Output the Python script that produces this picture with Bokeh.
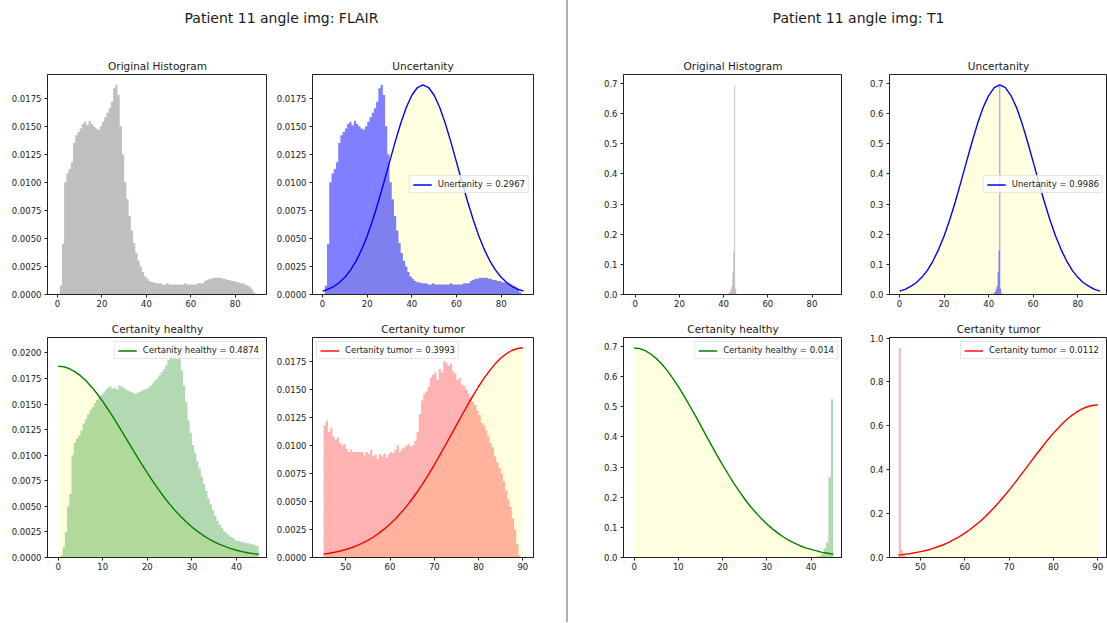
import numpy as np
from bokeh.plotting import figure
from bokeh.layouts import row, column
from bokeh.models import Div, FixedTicker, PrintfTickFormatter, Range1d, Label
from bokeh.embed import file_html
from bokeh.resources import INLINE

FONT = "DejaVu Sans"
TXT = "#1a1a1a"

# ---------------- data ----------------
panel_titles = ["Patient 11 angle img: FLAIR", "Patient 11 angle img: T1"]
sub_titles = ["Original Histogram", "Uncertanity", "Certanity healthy", "Certanity tumor"]

x_ticks_full = [0, 20, 40, 60, 80]
x_ticks_healthy = [0, 10, 20, 30, 40]
x_ticks_tumor = [50, 60, 70, 80, 90]
flair_y_ticks = [0.0, 0.0025, 0.005, 0.0075, 0.01, 0.0125, 0.015, 0.0175]
flair_healthy_y_ticks = [0.0, 0.0025, 0.005, 0.0075, 0.01, 0.0125, 0.015, 0.0175, 0.02]
t1_y_ticks = [0.0, 0.1, 0.2, 0.3, 0.4, 0.5, 0.6, 0.7]
t1_tumor_y_ticks = [0.0, 0.2, 0.4, 0.6, 0.8, 1.0]

flair_legends = ["Unertanity = 0.2967", "Certanity healthy = 0.4874", "Certanity tumor = 0.3993"]
t1_legends = ["Unertanity = 0.9986", "Certanity healthy = 0.014", "Certanity tumor = 0.0112"]

# FLAIR histogram, 1-unit bins starting at 0
flair_bin_width = 1.0
flair_bin_left = list(range(0, 89))
flair_hist = [
    0.0000, 0.0008, 0.0045, 0.0100, 0.0108, 0.0112, 0.0118, 0.0135, 0.0142, 0.0145,
    0.0148, 0.0152, 0.0154, 0.0151, 0.0155, 0.0152, 0.0150, 0.0148, 0.0147, 0.0150,
    0.0154, 0.0158, 0.0162, 0.0166, 0.0172, 0.0184, 0.0187, 0.0178, 0.0150, 0.0125,
    0.0100, 0.0085, 0.0070, 0.0057, 0.0046, 0.0037, 0.0030, 0.0025, 0.0020, 0.0016,
    0.0014, 0.0012, 0.0011, 0.0011, 0.0010, 0.0010,
    0.0010, 0.0009, 0.0009, 0.0010, 0.0009, 0.0009, 0.0009, 0.0009, 0.0009, 0.0009,
    0.0009, 0.0010, 0.0009, 0.0009, 0.0009, 0.0009, 0.0009, 0.0010, 0.0010,
    0.0010, 0.0012, 0.0013, 0.0014, 0.0014, 0.0015, 0.0015, 0.0015, 0.0015, 0.0014,
    0.0014, 0.0013, 0.0013, 0.0012, 0.0012, 0.0011, 0.0011, 0.0010, 0.0010, 0.0009,
    0.0008, 0.0007, 0.0005, 0.0002,
]

# FLAIR healthy part (0..45), 0.5-unit bins
half_bin_width = 0.5
flair_healthy_left = list(np.arange(0.0, 45.0, 0.5))
flair_healthy_hist = [
    0.0000, 0.0002, 0.0010, 0.0025, 0.0050, 0.0062, 0.0100, 0.0112, 0.0116, 0.0119,
    0.0124, 0.0131, 0.0135, 0.0140, 0.0144, 0.0147, 0.0151, 0.0154, 0.0156, 0.0159,
    0.0161, 0.0164, 0.0166, 0.0167, 0.0165, 0.0166, 0.0164, 0.0168, 0.0167, 0.0166,
    0.0164, 0.0163, 0.0162, 0.0161, 0.0160, 0.0161, 0.0162, 0.0163, 0.0164, 0.0165,
    0.0166, 0.0168, 0.0170, 0.0173, 0.0175, 0.0178, 0.0181, 0.0184, 0.0188, 0.0193,
    0.0199, 0.0203, 0.0204, 0.0203, 0.0198, 0.0183, 0.0168, 0.0152, 0.0134, 0.0122,
    0.0110, 0.0102, 0.0094, 0.0087, 0.0079, 0.0072, 0.0065, 0.0058, 0.0052, 0.0046,
    0.0041, 0.0036, 0.0032, 0.0029, 0.0026, 0.0024, 0.0022, 0.0020, 0.0019, 0.0017,
    0.0016, 0.0016, 0.0015, 0.0015, 0.0014, 0.0014, 0.0013, 0.0013, 0.0012, 0.0011,
]

# FLAIR tumor part (45..90), 0.5-unit bins
flair_tumor_left = list(np.arange(45.0, 90.0, 0.5))
flair_tumor_hist = [
    0.0118, 0.0122, 0.0112, 0.0116, 0.0108, 0.0105, 0.0107, 0.0102, 0.0100, 0.0101,
    0.0097, 0.0094, 0.0096, 0.0094, 0.0094, 0.0094, 0.0094, 0.0094, 0.0091, 0.0094,
    0.0092, 0.0096, 0.0090, 0.0092, 0.0088, 0.0092, 0.0090, 0.0093, 0.0089, 0.0092,
    0.0094, 0.0093, 0.0096, 0.0100, 0.0094, 0.0097, 0.0098, 0.0100, 0.0101, 0.0099,
    0.0100, 0.0104, 0.0112, 0.0128, 0.0140, 0.0146, 0.0148, 0.0152, 0.0160, 0.0163,
    0.0165, 0.0158, 0.0168, 0.0165, 0.0175, 0.0174, 0.0171, 0.0173, 0.0166, 0.0164,
    0.0158, 0.0160, 0.0154, 0.0153, 0.0150, 0.0146, 0.0143, 0.0139, 0.0136, 0.0131,
    0.0127, 0.0120, 0.0118, 0.0113, 0.0108, 0.0102, 0.0098, 0.0090, 0.0085, 0.0080,
    0.0075, 0.0068, 0.0060, 0.0052, 0.0045, 0.0035, 0.0025, 0.0012, 0.0002, 0.0000,
]

# T1 histogram (narrow spike near 45)
t1_bin_width = 0.4
t1_bin_left = [42.0, 42.4, 42.8, 43.2, 43.6, 44.0, 44.4, 44.8, 45.2, 45.6]
t1_hist = [0.003, 0.006, 0.010, 0.018, 0.028, 0.075, 0.145, 0.695, 0.020, 0.004]

t1_healthy_width = 0.55
t1_healthy_left = [41.15, 41.7, 42.25, 42.8, 43.35, 43.9, 44.45]
t1_healthy_hist = [0.003, 0.006, 0.012, 0.030, 0.050, 0.265, 0.525]

t1_tumor_width = 0.45
t1_tumor_left = [45.1, 45.55, 46.0, 46.45]
t1_tumor_hist = [0.955, 0.033, 0.010, 0.004]

# Curves: full-range ones read every 2.5 units, half-range ones every 1.25 units
curve_x_full = list(np.arange(0.0, 90.01, 2.5))
curve_x_healthy = list(np.arange(0.0, 45.01, 1.25))
curve_x_tumor = list(np.arange(45.0, 90.01, 1.25))

flair_unc_curve = [
    0.00030, 0.00047, 0.00071, 0.00106, 0.00154, 0.00217, 0.00298, 0.00400, 0.00522,
    0.00666, 0.00827, 0.01001, 0.01181, 0.01359, 0.01525, 0.01667, 0.01777, 0.01846,
    0.01870,
    0.01846, 0.01777, 0.01667, 0.01525, 0.01359, 0.01181, 0.01001, 0.00827, 0.00666,
    0.00522, 0.00400, 0.00298, 0.00217, 0.00154, 0.00106, 0.00071, 0.00047, 0.00030,
]
flair_healthy_curve = [
    0.01870, 0.01864, 0.01846, 0.01817, 0.01777, 0.01727, 0.01667, 0.01600, 0.01525,
    0.01444, 0.01359, 0.01271, 0.01181, 0.01091, 0.01001, 0.00913, 0.00827, 0.00744,
    0.00666, 0.00591, 0.00522, 0.00458, 0.00400, 0.00346, 0.00298, 0.00255, 0.00217,
    0.00183, 0.00153, 0.00128, 0.00106, 0.00087, 0.00071, 0.00058, 0.00047, 0.00038,
    0.00030,
]
flair_tumor_curve = [
    0.00030, 0.00038, 0.00047, 0.00058, 0.00071, 0.00087, 0.00106, 0.00128, 0.00153,
    0.00183, 0.00217, 0.00255, 0.00298, 0.00346, 0.00400, 0.00458, 0.00522, 0.00591,
    0.00666, 0.00744, 0.00827, 0.00913, 0.01001, 0.01091, 0.01181, 0.01271, 0.01359,
    0.01444, 0.01525, 0.01600, 0.01667, 0.01727, 0.01777, 0.01817, 0.01846, 0.01864,
    0.01870,
]
t1_unc_curve = [
    0.011, 0.017, 0.027, 0.039, 0.057, 0.080, 0.111, 0.149, 0.194, 0.247, 0.307, 0.372,
    0.439, 0.505, 0.567, 0.620, 0.660, 0.686, 0.695,
    0.686, 0.660, 0.620, 0.567, 0.505, 0.439, 0.372, 0.307, 0.247, 0.194, 0.149, 0.111,
    0.080, 0.057, 0.039, 0.027, 0.017, 0.011,
]
t1_healthy_curve = [
    0.695, 0.693, 0.686, 0.675, 0.660, 0.642, 0.620, 0.594, 0.567, 0.537, 0.505, 0.473,
    0.439, 0.405, 0.372, 0.339, 0.307, 0.277, 0.247, 0.220, 0.194, 0.170, 0.149, 0.129,
    0.111, 0.095, 0.081, 0.068, 0.057, 0.048, 0.039, 0.032, 0.027, 0.022, 0.017, 0.014,
    0.011,
]
t1_tumor_curve = [
    0.011, 0.014, 0.017, 0.022, 0.027, 0.032, 0.039, 0.048, 0.057, 0.068, 0.081, 0.095,
    0.111, 0.129, 0.149, 0.170, 0.194, 0.220, 0.247, 0.277, 0.307, 0.339, 0.372, 0.405,
    0.439, 0.473, 0.505, 0.537, 0.567, 0.594, 0.620, 0.642, 0.660, 0.675, 0.686, 0.693,
    0.695,
]

# ---------------- styling helpers ----------------
YELLOW = "#ffffe0"


def make_fig(title, xr, yr, xticks, yticks, yfmt, borders, frame):
    bl, br, bt, bb = borders
    fw, fh = frame
    p = figure(title=title, x_range=Range1d(*xr), y_range=Range1d(*yr),
               frame_width=fw, frame_height=fh,
               min_border_left=bl, min_border_right=br,
               min_border_top=bt, min_border_bottom=bb,
               toolbar_location=None, output_backend="svg",
               background_fill_color="white", border_fill_color="white")
    p.xgrid.visible = False
    p.ygrid.visible = False
    p.outline_line_color = "#222222"
    p.outline_line_width = 1
    p.title.align = "center"
    p.title.text_font = FONT
    p.title.text_font_size = "10.5px"
    p.title.text_font_style = "normal"
    p.title.text_color = TXT
    if "standoff" in p.title.properties():
        p.title.standoff = 6
    p.xaxis.ticker = FixedTicker(ticks=xticks, minor_ticks=[])
    p.yaxis.ticker = FixedTicker(ticks=yticks, minor_ticks=[])
    p.xaxis.formatter = PrintfTickFormatter(format="%d")
    p.yaxis.formatter = PrintfTickFormatter(format=yfmt)
    for ax in (p.xaxis[0], p.yaxis[0]):
        ax.axis_line_color = "#222222"
        ax.major_tick_line_color = "#222222"
        ax.major_tick_out = 3
        ax.major_tick_in = 0
        ax.minor_tick_line_color = None
        ax.major_label_text_font = FONT
        ax.major_label_text_font_size = "8.5px"
        ax.major_label_text_color = TXT
    p.xaxis.major_label_standoff = 2
    p.yaxis.major_label_standoff = 3
    return p


def hist_area(p, left, width, heights, color, alpha):
    xs, ys = [], []
    for l, h in zip(left, heights):
        xs += [l, l + width]
        ys += [h, h]
    p.varea(x=xs, y1=0, y2=ys, fill_color=color, fill_alpha=alpha)


def style_legend(p, loc):
    lg = p.legend[0]
    lg.location = loc
    lg.label_text_font = FONT
    lg.label_text_font_size = "8.5px"
    lg.label_text_color = TXT
    lg.border_line_color = "#cccccc"
    lg.border_line_width = 1
    lg.background_fill_color = "white"
    lg.background_fill_alpha = 0.8
    lg.padding = 3
    lg.margin = 4
    lg.spacing = 0
    lg.glyph_width = 19
    lg.glyph_height = 9
    lg.label_height = 9
    lg.label_standoff = 6


def prob_panel(p, cx, cy, left, width, heights, color, alpha, label, loc):
    p.varea(x=cx, y1=0, y2=cy, fill_color=YELLOW)
    hist_area(p, left, width, heights, color, alpha)
    p.line(cx, cy, line_color=color, line_width=1.4, legend_label=label)
    style_legend(p, loc)


def title_fig(text, width, cx):
    p = figure(frame_width=width, frame_height=50, min_border=0,
               x_range=Range1d(0, 1), y_range=Range1d(0, 1),
               x_axis_location=None, y_axis_location=None,
               toolbar_location=None, output_backend="svg",
               background_fill_color="white", border_fill_color="white")
    p.outline_line_color = None
    p.xgrid.visible = False
    p.ygrid.visible = False
    p.add_layout(Label(x=cx, y=33, x_units="screen", y_units="screen", text=text,
                       text_align="center", text_baseline="middle",
                       text_font=FONT, text_font_size="14px", text_color=TXT))
    return p


# ---------------- FLAIR ----------------
f1 = make_fig(sub_titles[0], (-4.5, 94.5), (0, 0.01962), x_ticks_full, flair_y_ticks, "%.4f",
              (47, 0, 24, 20), (220, 220))
hist_area(f1, flair_bin_left, flair_bin_width, flair_hist, "#808080", 0.5)

f2 = make_fig(sub_titles[1], (-4.5, 94.5), (0, 0.01962), x_ticks_full, flair_y_ticks, "%.4f",
              (45, 33, 24, 20), (221, 220))
prob_panel(f2, curve_x_full, flair_unc_curve, flair_bin_left, flair_bin_width, flair_hist,
           "#0000ff", 0.5, flair_legends[0], "center_right")

f3 = make_fig(sub_titles[2], (-2.38, 46.95), (0, 0.0215), x_ticks_healthy, flair_healthy_y_ticks, "%.4f",
              (47, 0, 23, 65), (220, 220))
prob_panel(f3, curve_x_healthy, flair_healthy_curve, flair_healthy_left, half_bin_width,
           flair_healthy_hist, "#008000", 0.3, flair_legends[1], "top_right")

f4 = make_fig(sub_titles[3], (42.5, 92.4), (0, 0.01962), x_ticks_tumor, flair_y_ticks, "%.4f",
              (45, 33, 23, 65), (221, 220))
prob_panel(f4, curve_x_tumor, flair_tumor_curve, flair_tumor_left, half_bin_width,
           flair_tumor_hist, "#ff0000", 0.3, flair_legends[2], "top_left")

# ---------------- T1 ----------------
f5 = make_fig(sub_titles[0], (-5.3, 93.8), (0, 0.7298), x_ticks_full, t1_y_ticks, "%.1f",
              (55, 0, 24, 20), (219, 220))
hist_area(f5, t1_bin_left, t1_bin_width, t1_hist, "#808080", 0.5)

f6 = make_fig(sub_titles[1], (-4.49, 93.3), (0, 0.7298), x_ticks_full, t1_y_ticks, "%.1f",
              (47, 0, 24, 20), (218, 220))
prob_panel(f6, curve_x_full, t1_unc_curve, t1_bin_left, t1_bin_width, t1_hist,
           "#0000ff", 0.5, t1_legends[0], "center_right")

f7 = make_fig(sub_titles[2], (-2.4, 47.1), (0, 0.7298), x_ticks_healthy, t1_y_ticks, "%.1f",
              (55, 0, 23, 65), (219, 220))
prob_panel(f7, curve_x_healthy, t1_healthy_curve, t1_healthy_left, t1_healthy_width,
           t1_healthy_hist, "#008000", 0.3, t1_legends[1], "top_right")

f8 = make_fig(sub_titles[3], (43.0, 92.2), (0, 1.0028), x_ticks_tumor, t1_tumor_y_ticks, "%.1f",
              (47, 0, 23, 65), (218, 220))
prob_panel(f8, curve_x_tumor, t1_tumor_curve, t1_tumor_left, t1_tumor_width,
           t1_tumor_hist, "#ff0000", 0.3, t1_legends[2], "top_right")

left_title = title_fig(panel_titles[0], 566, 281)
right_title = title_fig(panel_titles[1], 539, 290)

divider = Div(text="", width=2, height=622, margin=(0, 0, 0, 0),
              styles={"background-color": "#b0b0b0"})

left = column(left_title, row(f1, f2), row(f3, f4))
right = column(right_title, row(f5, f6), row(f7, f8))
layout = row(left, divider, right)

open("out.html", "w").write(file_html(layout, INLINE))
